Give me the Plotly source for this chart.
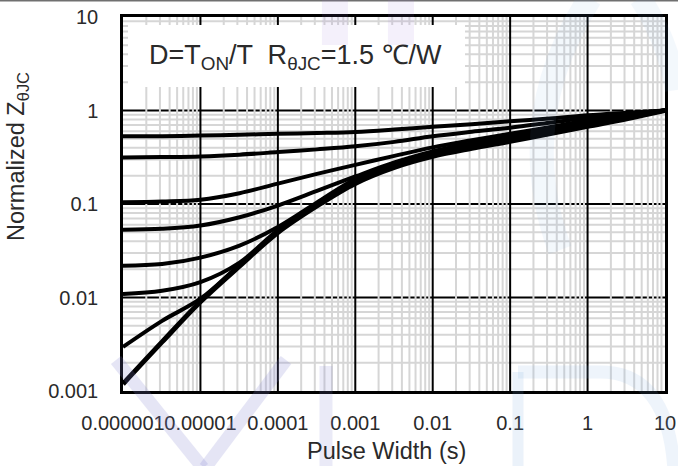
import plotly.graph_objects as go

# ---------------- data ----------------
t = [1e-6, 3.2e-6, 1e-5, 3.2e-5, 1e-4, 3.2e-4, 1e-3, 3.2e-3, 1e-2, 3.2e-2, 0.1, 0.32, 1, 3.2, 10]

z_d050 = [0.530, 0.532, 0.539, 0.550, 0.563, 0.574, 0.589, 0.625, 0.669, 0.712, 0.767, 0.820, 0.889, 0.946, 1.0]
z_d030 = [0.315, 0.318, 0.323, 0.337, 0.359, 0.384, 0.414, 0.462, 0.530, 0.592, 0.653, 0.739, 0.836, 0.923, 1.0]
z_d010 = [0.1045, 0.1063, 0.111, 0.1305, 0.165, 0.210, 0.262, 0.327, 0.4035, 0.480, 0.563, 0.661, 0.786, 0.900, 1.0]
z_d005 = [0.0529, 0.0542, 0.0588, 0.0722, 0.0963, 0.1379, 0.197, 0.2786, 0.3656, 0.446, 0.530, 0.630, 0.758, 0.878, 1.0]
z_d002 = [0.0219, 0.0228, 0.0267, 0.0359, 0.0567, 0.1038, 0.1854, 0.2685, 0.3523, 0.429, 0.510, 0.606, 0.730, 0.857, 1.0]
z_d001 = [0.0109, 0.0118, 0.0146, 0.0236, 0.0526, 0.100, 0.1787, 0.2619, 0.3437, 0.419, 0.498, 0.592, 0.712, 0.846, 1.0]
z_d0003 = [0.00296, 0.00563, 0.0097, 0.02245, 0.0507, 0.0976, 0.1743, 0.2555, 0.3353, 0.4085, 0.486, 0.584, 0.703, 0.836, 1.0]
z_single = [0.00119, 0.00335, 0.0090, 0.02164, 0.0495, 0.0952, 0.1659, 0.2463, 0.3231, 0.3937, 0.468, 0.563, 0.678, 0.816, 1.0]

curves = [z_d050, z_d030, z_d010, z_d005, z_d002, z_d001, z_d0003]

x_tickvals = [1e-6, 1e-5, 1e-4, 1e-3, 1e-2, 1e-1, 1, 10]
x_ticktext = ["0.000001", "0.00001", "0.0001", "0.001", "0.01", "0.1", "1", "10"]
y_tickvals = [0.001, 0.01, 0.1, 1, 10]
y_ticktext = ["0.001", "0.01", "0.1", "1", "10"]

x_decades = [1e-6, 1e-5, 1e-4, 1e-3, 1e-2, 1e-1, 1]
y_decades = [1e-3, 1e-2, 1e-1, 1]
minor_mult = [2, 3, 4, 5, 6, 7, 8, 9]
x_major_grid = [1e-5, 1e-4, 1e-3, 1e-2, 1e-1, 1]
y_major_grid = [0.01, 0.1, 1]

FONT = "Liberation Sans, Arial, sans-serif"
TXT = "#2a2a2a"
MINOR = "#d6d6d6"

# plot area in pixels (for decorative paper-referenced shapes)
PL, PR, PT, PB = 123, 665, 17, 391


def px(xp):
    return (xp - PL) / (PR - PL)


def py(yp):
    return (PB - yp) / (PB - PT)


def path(points, cmd=None):
    s = ""
    for i, (a, b) in enumerate(points):
        c = "M" if i == 0 else (cmd or "L")
        s += f"{c} {px(a):.4f} {py(b):.4f} "
    return s.strip()


fig = go.Figure()

for z in curves:
    fig.add_trace(go.Scatter(x=t, y=z, mode="lines",
                             line=dict(color="black", width=4.0, shape="spline", smoothing=1.0),
                             showlegend=False, hoverinfo="skip"))
fig.add_trace(go.Scatter(x=t, y=z_single, mode="lines",
                         line=dict(color="black", width=5.0, shape="spline", smoothing=1.0),
                         showlegend=False, hoverinfo="skip"))

shapes = []
# horizontal major gridlines (black) - drawn first so minor verticals cut them
for yv in y_major_grid:
    shapes.append(dict(type="line", xref="x domain", yref="y", x0=0, x1=1, y0=yv, y1=yv,
                       line=dict(color="black", width=2), layer="below"))
# minor vertical gridlines
for d in x_decades:
    for m in minor_mult:
        xv = d * m
        shapes.append(dict(type="line", xref="x", yref="y domain", x0=xv, x1=xv, y0=0, y1=1,
                           line=dict(color=MINOR, width=2), layer="below"))
# minor horizontal gridlines
for d in y_decades:
    for m in minor_mult:
        yv = d * m
        shapes.append(dict(type="line", xref="x domain", yref="y", x0=0, x1=1, y0=yv, y1=yv,
                           line=dict(color=MINOR, width=2), layer="below"))
# vertical major gridlines (black, solid)
for xv in x_major_grid:
    shapes.append(dict(type="line", xref="x", yref="y domain", x0=xv, x1=xv, y0=0, y1=1,
                       line=dict(color="black", width=2), layer="below"))
# white label box
shapes.append(dict(type="rect", xref="paper", yref="paper", x0=px(128), x1=px(465), y0=py(87), y1=py(25),
                   fillcolor="white", line=dict(width=0), layer="below"))
# thin grey frame line at the top of the picture
shapes.append(dict(type="line", xref="paper", yref="paper", x0=px(-5), x1=px(690), y0=py(0.5), y1=py(0.5),
                   line=dict(color="#707070", width=2)))

# faint watermark (logo) overlay
WM_LAV = "rgb(130,130,210)"
WM_BLUE = "rgb(120,170,225)"
wm = [
    (path([(116, 360), (203, 468)]), WM_LAV, 13, 0.2),
    (path([(286, 360), (205, 468)]), WM_LAV, 13, 0.2),
    (path([(326, 366), (326, 470)]), WM_LAV, 13, 0.16),
    (path([(518, 372), (518, 470)]), WM_BLUE, 11, 0.14),
    (f"M {px(518):.4f} {py(372):.4f} L {px(600):.4f} {py(372):.4f} "
     f"Q {px(668):.4f} {py(372):.4f} {px(674):.4f} {py(470):.4f}", WM_BLUE, 13, 0.12),
    (f"M {px(590):.4f} {py(-2):.4f} Q {px(512):.4f} {py(120):.4f} {px(560):.4f} {py(250):.4f}",
     WM_BLUE, 24, 0.08),
    (f"M {px(640):.4f} {py(-2):.4f} Q {px(668):.4f} {py(40):.4f} {px(676):.4f} {py(90):.4f}",
     WM_BLUE, 22, 0.08),
    (path([(335, -2), (335, 45)]), "rgb(160,120,220)", 26, 0.1),
    (path([(401, -2), (401, 45)]), "rgb(160,120,220)", 26, 0.1),
]
for p, col, w, op in wm:
    shapes.append(dict(type="path", xref="paper", yref="paper", path=p,
                       line=dict(color=col, width=w), opacity=op, layer="above"))

annotations = [
    dict(text="D=T<sub>ON</sub>/T  R<sub>θJC</sub>=1.5 ℃/W", xref="paper", yref="paper",
         x=px(295), y=py(57), xanchor="center", yanchor="middle", showarrow=False,
         font=dict(family=FONT, size=27, color=TXT)),
    dict(text="Pulse Width (s)", xref="paper", yref="paper", x=px(386), y=py(451),
         xanchor="center", yanchor="middle", showarrow=False,
         font=dict(family=FONT, size=23.5, color=TXT)),
    dict(text="Normalized Z<sub>θJC</sub>", xref="paper", yref="paper", x=px(17), y=py(157),
         xanchor="center", yanchor="middle", showarrow=False, textangle=-90,
         font=dict(family=FONT, size=23.5, color=TXT)),
]

fig.update_layout(
    width=678, height=466,
    margin=dict(l=PL, r=678 - PR, t=PT, b=466 - PB, autoexpand=False),
    paper_bgcolor="white", plot_bgcolor="white",
    shapes=shapes, annotations=annotations,
    font=dict(family=FONT, color=TXT),
    xaxis=dict(type="log", range=[-6, 1], showgrid=False, zeroline=False, automargin=False,
               tickmode="array", tickvals=x_tickvals, ticktext=x_ticktext,
               ticks="", ticklabelstandoff=12, tickangle=0,
               tickfont=dict(family=FONT, size=20, color=TXT),
               showline=True, mirror=True, linecolor="black", linewidth=2.5),
    yaxis=dict(type="log", range=[-3, 1], showgrid=False, zeroline=False, automargin=False,
               tickmode="array", tickvals=y_tickvals, ticktext=y_ticktext,
               ticks="", ticklabelstandoff=18, tickangle=0,
               tickfont=dict(family=FONT, size=20, color=TXT),
               showline=True, mirror=True, linecolor="black", linewidth=2.5),
)

fig.write_html("out.html")
